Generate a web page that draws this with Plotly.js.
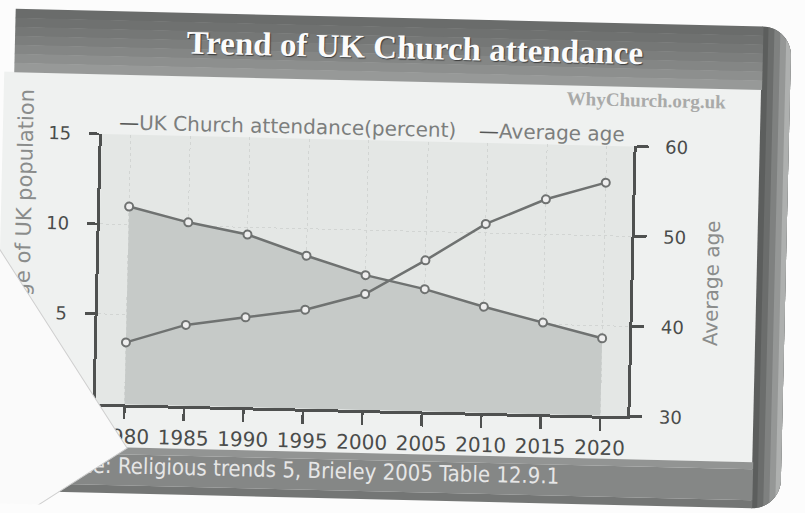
<!DOCTYPE html>
<html><head><meta charset="utf-8">
<script src="https://cdn.plot.ly/plotly-3.0.1.min.js"></script>
<style>
html,body{margin:0;padding:0;background:#fcfcfc;overflow:hidden;}
#chart{width:805px;height:513px;transform:rotate(1.35deg);transform-origin:402.5px 256.5px;}
</style></head><body><div id="chart"></div>
<script>
// ---- data ----
const years = [1980, 1985, 1990, 1995, 2000, 2005, 2010, 2015, 2020];
const attendance = [11.0, 10.2, 9.6, 8.5, 7.5, 6.8, 5.9, 5.1, 4.3];
const averageAge = [36.9, 39.0, 40.0, 41.0, 42.9, 46.8, 51.0, 53.9, 55.9];
const seriesNames = ['UK Church attendance(percent)', 'Average age'];
const leftTicks = [5, 10, 15];
const rightTicks = [30, 40, 50, 60];
const chartTitle = 'Trend of UK Church attendance';
const leftAxisTitle = 'Percentage of UK population';
const rightAxisTitle = 'Average age';
const sourceNote = 'Source: Religious trends 5, Brieley 2005 Table 12.9.1';
const siteMark = 'WhyChurch.org.uk';

// ---- layout geometry (px) ----
const W = 805, H = 513, L = 99, R = 631, T = 141, B = 411;
const px = v => (v - L) / (R - L);
const py = v => (B - v) / (B - T);
const SANS = 'DejaVu Sans, Verdana, sans-serif';
const lineCol = '#6f7271';

function rect(x0, y0, x1, y1, color) {
  return {type: 'rect', xref: 'paper', yref: 'paper', layer: 'below',
    x0: px(x0), x1: px(x1), y0: py(y0), y1: py(y1),
    fillcolor: color, line: {width: 0}};
}
function poly(pts, color) {
  const d = pts.map((p, i) => (i ? 'L' : 'M') + px(p[0]).toFixed(5) + ',' + py(p[1]).toFixed(5)).join(' ') + ' Z';
  return {type: 'path', xref: 'paper', yref: 'paper', layer: 'below', path: d,
    fillcolor: color, line: {width: 0}};
}
const shapes = [];
// panel
shapes.push(rect(-5, 81, 757, 454, '#eff1f0'));
// plot background
shapes.push({type: 'rect', xref: 'paper', yref: 'paper', layer: 'below',
  x0: 0, x1: 1, y0: 0, y1: 1, fillcolor: '#e4e7e5', line: {width: 0}});
// right frame edge: nested rounded strips (horizontal gradient)
const rad = 29, ccx = 757, cyT = 47, cyB = 471, N = 14;
const rbStarts = [757, 763, 769, 775, 781];
const rbCols = ['#5c5e5d', '#6b6d6c', '#7f8180', '#959796', '#aeb0af'];
rbStarts.forEach((xa, i) => {
  const pa = Math.acos(Math.min(1, (xa - ccx) / rad));
  const pts = [];
  for (let k = 0; k <= N; k++) { const p = pa - (pa * k / N); pts.push([ccx + rad * Math.cos(p), cyT - rad * Math.sin(p)]); }
  for (let k = 0; k <= N; k++) { const p = pa * k / N; pts.push([ccx + rad * Math.cos(p), cyB + rad * Math.sin(p)]); }
  shapes.push(poly(pts, rbCols[i]));
});
// header band (vertical gradient)
const hdrCols = ['#6a6c6b', '#6f7170', '#757776', '#7c7e7d', '#848685', '#8d8f8e', '#979998'];
hdrCols.forEach((c, i) => shapes.push(rect(10, 18 + i * 9, 758, 18 + (i + 1) * 9 + 0.5, c)));
// footer band
shapes.push(rect(-5, 454, 758, 461, '#929493'));
shapes.push(rect(-5, 461, 758, 492, '#858786'));
shapes.push(rect(-5, 492, 758, 500, '#747675'));

// folded corner of the photographed print (rotated paper-coloured box)
const foldAngle = -34, foldW = 240, foldH = 360;
const fc = [131.5, 454.5];
const fa = foldAngle * Math.PI / 180;
const nrm = [Math.cos(fa), Math.sin(fa)], dir = [-Math.sin(fa), Math.cos(fa)];
const foldCenter = [fc[0] - foldW / 2 * nrm[0] - foldH / 2 * dir[0], fc[1] - foldW / 2 * nrm[1] - foldH / 2 * dir[1]];

const annotations = [
  {text: leftAxisTitle, textangle: -90, xref: 'paper', yref: 'paper',
   x: px(23.7), y: py(96), xanchor: 'center', yanchor: 'top', showarrow: false,
   font: {family: SANS, size: 21, color: '#8a8c8b'}},
  {text: sourceNote, xref: 'paper', yref: 'paper', x: px(566), y: py(472.5),
   xanchor: 'right', yanchor: 'middle', showarrow: false,
   font: {family: 'DejaVu Sans Condensed, Liberation Sans Narrow, DejaVu Sans, sans-serif', size: 22, color: '#e6e6e6'}},
  {text: siteMark, xref: 'paper', yref: 'paper', x: px(643), y: py(94.5),
   xanchor: 'center', yanchor: 'middle', showarrow: false,
   font: {family: 'Liberation Serif, serif', size: 19, weight: 'bold', color: '#a9aaa9'}},
  {text: '<span style="color:#555756">—</span>' + seriesNames[0], xref: 'paper', yref: 'paper',
   x: px(114), y: py(128.5), xanchor: 'left', yanchor: 'middle', showarrow: false,
   font: {family: SANS, size: 20, color: '#7c7e7d'}},
  {text: '<span style="color:#555756">—</span>' + seriesNames[1], xref: 'paper', yref: 'paper',
   x: px(474), y: py(128.5), xanchor: 'left', yanchor: 'middle', showarrow: false,
   font: {family: SANS, size: 20, color: '#7c7e7d'}},
  {text: ' ', xref: 'paper', yref: 'paper', x: px(foldCenter[0]), y: py(foldCenter[1]),
   xanchor: 'center', yanchor: 'middle', showarrow: false, width: foldW, height: foldH,
   textangle: foldAngle, bgcolor: '#fafafa', bordercolor: '#cfcfcf', borderwidth: 1, borderpad: 0}
];

const markerStyle = {symbol: 'circle', size: 8, color: '#eeeeee', line: {color: lineCol, width: 2}};
const traces = [
  {x: years, y: attendance, name: seriesNames[0], type: 'scatter', mode: 'lines+markers',
   yaxis: 'y', fill: 'tozeroy', fillcolor: '#c6cac8',
   line: {color: lineCol, width: 2.5}, marker: markerStyle, showlegend: false},
  {x: years, y: averageAge, name: seriesNames[1], type: 'scatter', mode: 'lines+markers',
   yaxis: 'y2', line: {color: lineCol, width: 2.5}, marker: markerStyle, showlegend: false}
];

const axisCommon = {showline: true, linecolor: '#4f5150', linewidth: 3, ticks: 'outside',
  tickcolor: '#4f5150', tickwidth: 2.5, zeroline: false, fixedrange: true};

const layout = {
  width: W, height: H,
  margin: {l: L, r: W - R, t: T, b: H - B, pad: 0},
  paper_bgcolor: '#fcfcfc', plot_bgcolor: 'rgba(0,0,0,0)',
  showlegend: false,
  title: {text: chartTitle, xref: 'container', yref: 'container',
    x: 410 / W, y: 1 - 47 / H, xanchor: 'center', yanchor: 'middle',
    font: {family: 'Liberation Serif, Times New Roman, serif', size: 33, weight: 'bold', color: '#fbfbfb',
      shadow: '1px 1px 1px #3c3c3c'}},
  xaxis: Object.assign({}, axisCommon, {
    range: [1977.56, 2022.27], tickvals: years, ticklen: 12, ticklabelstandoff: 0,
    tickfont: {family: SANS, size: 20, color: '#4a4c4b'},
    showgrid: true, gridcolor: '#d2d5d3', griddash: 'dot', gridwidth: 1}),
  yaxis: Object.assign({}, axisCommon, {
    range: [0, 15], tickvals: leftTicks, ticklen: 10, ticklabelstandoff: 14,
    tickfont: {family: SANS, size: 18, color: '#4a4c4b'},
    showgrid: true, gridcolor: '#d2d5d3', griddash: 'dot', gridwidth: 1}),
  yaxis2: Object.assign({}, axisCommon, {
    overlaying: 'y', side: 'right', range: [30, 60], tickvals: rightTicks,
    ticklen: 12, ticklabelstandoff: 13, showgrid: false,
    tickfont: {family: SANS, size: 18, color: '#4a4c4b'},
    title: {text: rightAxisTitle, standoff: 21, font: {family: SANS, size: 20, color: '#8a8c8b'}}}),
  shapes: shapes,
  annotations: annotations
};

Plotly.newPlot('chart', traces, layout, {displayModeBar: false, staticPlot: true});
</script></body></html>
